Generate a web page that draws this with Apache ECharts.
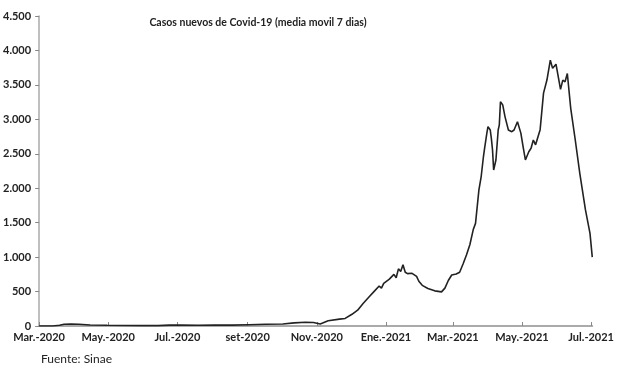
<!DOCTYPE html>
<html>
<head>
<meta charset="utf-8">
<script src="https://cdn.jsdelivr.net/npm/echarts@6/dist/echarts.min.js"></script>
<style>html,body{margin:0;padding:0;background:#fff;}#c{width:617px;height:369px;}</style>
</head>
<body>
<div id="c"></div>
<script>
const dates = ['2020-03-01','2020-03-13','2020-03-19','2020-03-23','2020-03-29','2020-04-05','2020-04-15','2020-04-30','2020-05-15','2020-05-30','2020-06-14','2020-06-24','2020-07-04','2020-07-19','2020-08-03','2020-08-18','2020-09-02','2020-09-17','2020-10-02','2020-10-12','2020-10-22','2020-10-29','2020-11-04','2020-11-11','2020-11-21','2020-11-26','2020-12-02','2020-12-07','2020-12-12','2020-12-17','2020-12-22','2020-12-26','2020-12-28','2020-12-30','2021-01-04','2021-01-08','2021-01-10','2021-01-12','2021-01-14','2021-01-16','2021-01-18','2021-01-20','2021-01-24','2021-01-28','2021-01-30','2021-02-02','2021-02-07','2021-02-13','2021-02-19','2021-02-22','2021-02-25','2021-02-28','2021-03-04','2021-03-07','2021-03-10','2021-03-13','2021-03-16','2021-03-19','2021-03-21','2021-03-24','2021-03-26','2021-03-28','2021-03-29','2021-03-31','2021-04-01','2021-04-03','2021-04-04','2021-04-05','2021-04-06','2021-04-08','2021-04-10','2021-04-11','2021-04-12','2021-04-14','2021-04-16','2021-04-19','2021-04-22','2021-04-24','2021-04-27','2021-04-30','2021-05-02','2021-05-04','2021-05-05','2021-05-07','2021-05-09','2021-05-11','2021-05-13','2021-05-17','2021-05-20','2021-05-23','2021-05-26','2021-05-28','2021-05-31','2021-06-04','2021-06-06','2021-06-08','2021-06-10','2021-06-13','2021-06-17','2021-06-21','2021-06-26','2021-06-30','2021-07-02'];
const values = [0,0,10,25,30,25,15,10,8,6,5,12,15,10,15,12,18,25,30,45,55,50,30,75,100,110,170,230,330,420,510,580,550,620,680,750,700,830,790,890,780,760,765,720,650,590,545,510,495,550,660,740,755,780,900,1030,1180,1400,1490,1975,2170,2460,2580,2800,2895,2845,2720,2555,2265,2410,2845,2920,3255,3210,3040,2845,2820,2845,2965,2800,2600,2410,2410,2530,2580,2700,2630,2850,3380,3570,3860,3740,3800,3435,3570,3545,3665,3160,2700,2215,1685,1345,1000];
const tickDates = ['2020-03-01','2020-05-01','2020-07-01','2020-09-01','2020-11-01','2021-01-01','2021-03-01','2021-05-01','2021-07-01'];
const tickLabels = ['Mar.-2020','May.-2020','Jul.-2020','set-2020','Nov.-2020','Ene.-2021','Mar.-2021','May.-2021','Jul.-2021'];
const startDate = '2020-03-01';
const endDate = '2021-07-02';

function dayNum(s){const p=s.split('-').map(Number);const q=startDate.split('-').map(Number);
  return Math.round((Date.UTC(p[0],p[1]-1,p[2])-Date.UTC(q[0],q[1]-1,q[2]))/86400000);}
const tickDays = tickDates.map(dayNum);
const labelMap = {};
tickDays.forEach((t,i)=>{labelMap[t]=tickLabels[i];});

const chart = echarts.init(document.getElementById('c'));
chart.setOption({
  backgroundColor:'#fff',
  animation:false,
  title:{text:'Casos nuevos de Covid-19 (media movil 7 dias)',left:253,textAlign:'center',top:12,
    textStyle:{fontFamily:'Lato',fontWeight:'bold',fontSize:10.5,color:'#222'}},
  grid:{left:38,right:24,top:16,bottom:43,containLabel:false},
  xAxis:{type:'value',min:0,max:dayNum(endDate),
    axisLine:{show:true,lineStyle:{color:'#aaa',width:2}},
    axisTick:{show:true,inside:true,length:4,customValues:tickDays,lineStyle:{color:'#888'}},
    axisLabel:{customValues:tickDays,formatter:(v)=>labelMap[Math.round(v)]||'',margin:6,
      fontFamily:'Lato',fontWeight:'bold',fontSize:11,color:'#222'},
    splitLine:{show:false}},
  yAxis:{type:'value',min:0,max:4500,interval:500,
    axisLine:{show:true,lineStyle:{color:'#aaa',width:1.5}},
    axisTick:{show:true,length:4,lineStyle:{color:'#888'}},
    axisLabel:{formatter:(v)=>v>=1000?(Math.floor(v/1000)+'.'+String(v%1000).padStart(3,'0')):String(v),
      margin:8,fontFamily:'Lato',fontWeight:'bold',fontSize:11,color:'#222'},
    splitLine:{show:false}},
  series:[{type:'line',data:dates.map((d,i)=>[dayNum(d),values[i]]),showSymbol:false,
    lineStyle:{color:'#222',width:1.6},itemStyle:{color:'#222'}}],
  graphic:[{type:'text',left:41,top:353,style:{text:'Fuente: Sinae',fontFamily:'Lato',fontSize:12,fill:'#222'}}]
});
</script>
</body>
</html>
